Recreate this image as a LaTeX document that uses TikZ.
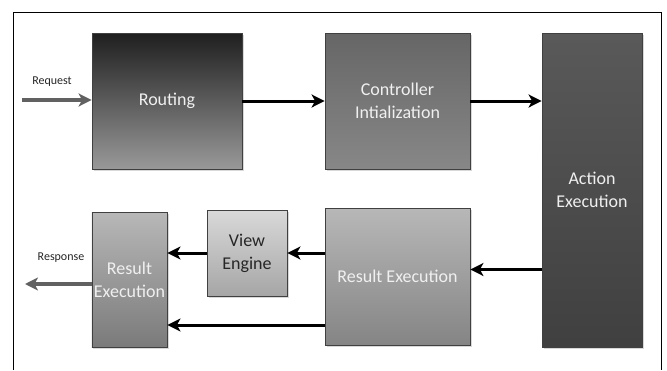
\documentclass[tikz,border=0pt]{standalone}
\usepackage{fontspec}
\setmainfont{Carlito}
\usetikzlibrary{arrows.meta, shadows}

\begin{document}
\begin{tikzpicture}[x=1pt, y=-1pt,
  stage/.style={draw=black!75, line width=0.8pt, inner sep=2pt, align=center,
    font=\fontsize{18}{23}\selectfont, text=white!94!black,
    drop shadow={shadow xshift=1.5pt, shadow yshift=-1.5pt, fill=black!30}},
  flow/.style={line width=3pt, -{Stealth[length=13pt, width=13pt, inset=3.5pt]}},
  io/.style={flow, line width=3.6pt, draw=black!62},
  tag/.style={font=\fontsize{12}{14}\selectfont, text=black!85}]
\useasboundingbox (0,0) rectangle (667,370);
% frame round the stages
\draw[line width=0.8pt] (13,370) -- (13,12) -- (661,12) -- (661,370);

% stages of the request
\node[stage, minimum width=150pt, minimum height=136pt, top color=black!88, bottom color=black!40] (routing) at (167,101) {Routing};
\node[stage, minimum width=145pt, minimum height=136pt, top color=black!60, bottom color=black!47] (ctrl) at (397.5,101) {Controller\\Intialization};
\node[stage, minimum width=100pt, minimum height=314pt, top color=black!65, bottom color=black!75] (action) at (592,190) {Action\\Execution};
\node[stage, minimum width=145pt, minimum height=137pt, top color=black!28, bottom color=black!48] (resmid) at (397.5,276.5) {Result Execution};
\node[stage, minimum width=80pt, minimum height=86pt, top color=black!15, bottom color=black!35, text=black!85] (view) at (247,253) {View\\Engine};
\node[stage, minimum width=75pt, minimum height=135pt, top color=black!28, bottom color=black!52] (resleft) at (129.5,279.5) {Result\\Execution};

% connectors
\coordinate (req) at (22,100);
\coordinate (resp) at (25,284);
\draw[io] (req) -- (req -| routing.west);
\node[tag] (reqtag) at (52,82) {Request};
\draw[flow] (routing) -- (ctrl);
\draw[flow] (ctrl.east) -- (ctrl.east -| action.west);
\draw[flow] ([yshift=7pt]resmid.east -| action.west) -- ([yshift=7pt]resmid.east);
\draw[flow] (resmid.west |- view.east) -- (view.east);
\draw[flow] (view.west) -- (view.west -| resleft.east);
\draw[flow] ([yshift=-48.5pt]resmid.west) -- ([yshift=-48.5pt]resmid.west -| resleft.east);
\draw[io] (resp -| resleft.west) -- (resp);
\node[tag] (resptag) at (61,258) {Response};
\end{tikzpicture}
\end{document}
